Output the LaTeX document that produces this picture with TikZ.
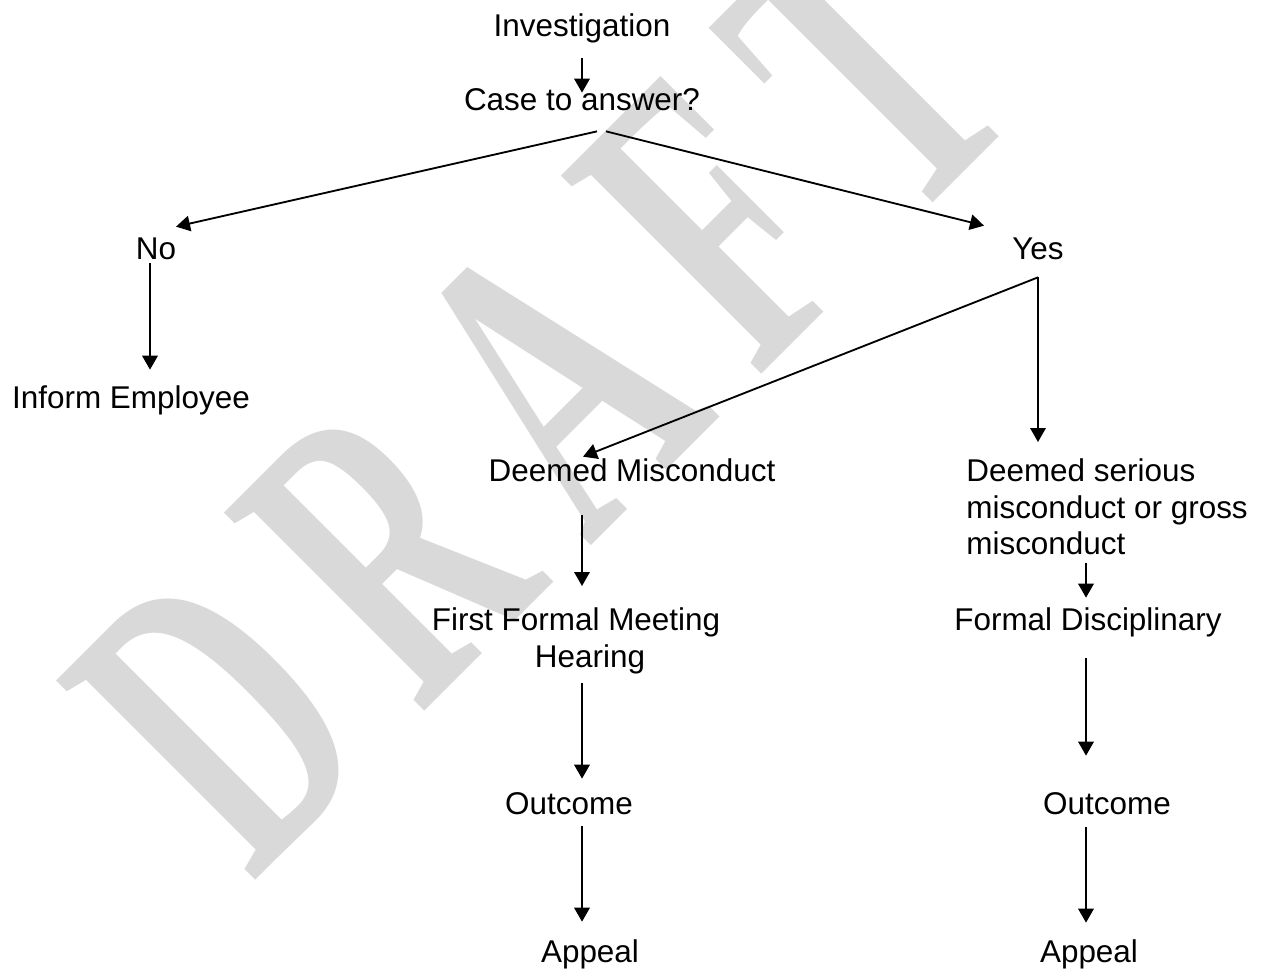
\documentclass[tikz,border=0pt]{standalone}
\usepackage{fontspec}
\setmainfont{Liberation Sans}
\newfontfamily\draftfont[LetterSpace=20]{Liberation Serif Bold}
\usetikzlibrary{arrows.meta,calc}
\tikzset{
  txt/.style={inner sep=0pt, font=\fontsize{17.9}{21}\selectfont},
  lbl/.style={txt, text height=0.46cm, text depth=0.14cm, anchor=base},
  arr/.style={-{Triangle[length=0.28cm,width=0.31cm]}, line width=1.05pt},
  wmark/.style={text=black!15, rotate=45, inner sep=0pt, anchor=base west,
    font=\fontsize{245}{245}\draftfont}
}

\begin{document}
\begin{tikzpicture}[x=0.02cm, y=-0.02cm]
  \useasboundingbox (0,0) rectangle (1272,971);
  \node[wmark] (draft) at (252,884) {\scalebox{0.6}[1]{DRAFT}};

  \node[lbl] (inv) at (582,36) {Investigation};
  \node[lbl] (case) at (582,110) {Case to answer?};
  \node[lbl] (no) at (156,259) {No};
  \node[lbl] (yes) at (1038,259) {Yes};
  \node[lbl] (inform) at (131,408) {Inform Employee};
  \node[lbl] (dm) at (632,481) {Deemed Misconduct};
  \node[txt, anchor=north west, align=left] (dsm) at (966,458)
    {Deemed serious\\misconduct or gross\\misconduct};
  \node[txt, anchor=north, align=center] (ffm) at (576,607)
    {First Formal Meeting\\\hspace*{0.56cm}Hearing};
  \node[lbl] (fd) at (1088,630) {Formal Disciplinary};
  \node[lbl] (outl) at (569,814) {Outcome};
  \node[lbl] (outr) at (1107,814) {Outcome};
  \node[lbl] (appl) at (590,962) {Appeal};
  \node[lbl] (appr) at (1089,962) {Appeal};

  \draw[arr] ($(inv.south)+(0,15)$) -- ($(case.north)+(0,6)$);
  \draw[arr] ($(case.south)+(15,14)$) -- ($(no.north)+(20,-9)$);
  \draw[arr] ($(case.south)+(24,14)$) -- ($(yes.north)+(-54,-10)$);
  \draw[arr] ($(no.south)+(-6,-3)$) -- ($(inform.north)+(19,-15)$);
  \draw[arr] ($(yes.south)+(0,11)$) -- ($(dm.north)+(-49,-1)$);
  \draw[arr] ($(yes.south)+(0,11)$) -- ($(dsm.north west)+(72,-16)$);
  \draw[arr] ($(fd.north |- dsm.south)+(-2,7)$) -- ($(fd.north)+(-2,-9)$);
  \draw[arr] ($(dm.south)+(-50,27)$) -- ($(ffm.north)+(6,-21)$);
  \draw[arr] ($(ffm.south)+(6,9)$) -- ($(outl.north)+(13,-12)$);
  \draw[arr] ($(outl.south)+(13,5)$) -- ($(appl.north)+(-8,-17)$);
  \draw[arr] ($(fd.south)+(-2,21)$) -- ($(outr.north)+(-21,-35)$);
  \draw[arr] ($(outr.south)+(-21,6)$) -- ($(appr.north)+(-3,-16)$);
\end{tikzpicture}
\end{document}
